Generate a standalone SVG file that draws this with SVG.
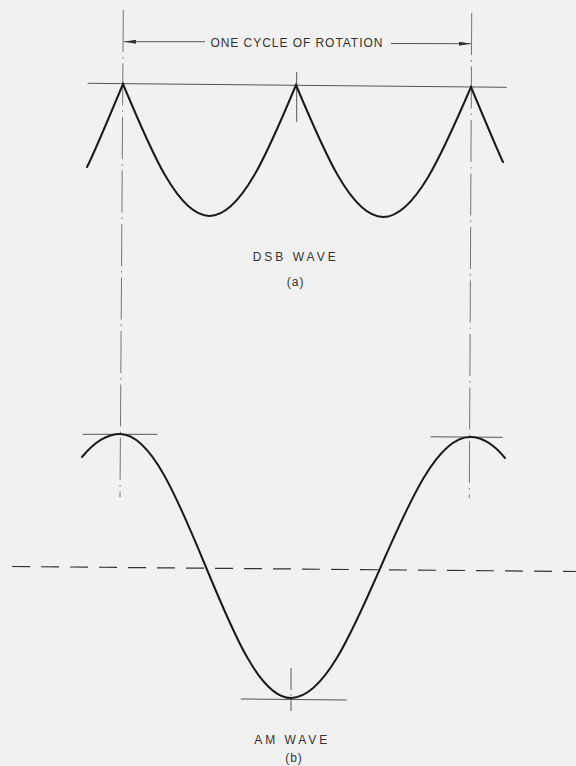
<svg xmlns="http://www.w3.org/2000/svg" width="576" height="766" viewBox="0 0 576 766">
<style>
.bg{fill:#f1f1f1}
.wave{fill:none;stroke:#1a1a1a;stroke-width:2;stroke-linecap:round;stroke-linejoin:miter}
.thin{fill:none;stroke:#555;stroke-width:1}
.cl{fill:none;stroke:#666;stroke-width:0.9;stroke-dasharray:42 5 1.5 5}
.dash{fill:none;stroke:#333;stroke-width:1.2;stroke-dasharray:18 11}
.lbl{font-family:"Liberation Sans",Arial,sans-serif;font-size:12px;fill:#333}
</style>
<defs>
<marker id="ah" viewBox="0 0 12 4" refX="12" refY="2" markerWidth="12" markerHeight="4" markerUnits="userSpaceOnUse" orient="auto">
<path d="M0,0 L12,2 L0,4 Z" fill="#333"/>
</marker>
</defs>
<rect class="bg" x="0" y="0" width="576" height="766"/>
<g id="connectors">
<path class="cl" d="M123.3,10 L120,497"/>
<path class="cl" d="M471.7,13 L469.3,498"/>
<path class="thin" d="M296.7,72 L296.7,122"/>
<path class="thin" d="M205,41.7 L124,41.7" marker-end="url(#ah)"/>
<path class="thin" d="M391,43.5 L471,43.7" marker-end="url(#ah)"/>
<path class="thin" d="M87.7,83.3 L506.7,87.3"/>
<path class="thin" d="M82.7,434.3 L157.3,434.3"/>
<path class="thin" d="M430.7,436.8 L502.7,437.3"/>
<path class="thin" d="M240.7,699 L346.7,700"/>
<path class="thin" d="M291,668 L291,711" stroke-dasharray="22 4 1.5 4"/>
<path class="dash" d="M12,566.5 L576,571.5"/>
</g>
<g id="dim-label">
<text class="lbl" x="296.4" y="46.7" text-anchor="middle" textLength="172" lengthAdjust="spacing">ONE  CYCLE OF ROTATION</text>
</g>
<g id="dsb-wave">
<path class="wave" d="M87,167 Q93.6,154.4 123,84 C151.2,151.6 178.2,216 209.5,216 C240.8,216 267.8,152.6 296,85 C324.4,152.6 351.5,217 383,217 C414.8,217 442.3,153.6 471,87 Q498.7,153.4 503,162"/>
</g>
<g id="dsb-label">
<text class="lbl" x="294.2" y="261" text-anchor="middle" font-size="13" textLength="83" lengthAdjust="spacing">DSB  WAVE</text>
<text class="lbl" x="295.7" y="286" text-anchor="middle" font-size="13" letter-spacing="1">(a)</text>
</g>
<g id="am-wave">
<path class="wave" d="M82,457 Q101,434 120,434 C150.9,434 177.6,498.4 205.5,566 C233.4,633.6 260.1,698 291,698 C323.4,698 351.3,634.4 380.5,567.5 C409.7,500.6 437.6,437 470,437 Q488,437 505,458"/>
</g>
<g id="am-label">
<text class="lbl" x="290.8" y="744" text-anchor="middle" font-size="13" textLength="73" lengthAdjust="spacing">AM  WAVE</text>
<text class="lbl" x="294" y="762" text-anchor="middle" font-size="12" letter-spacing="1">(b)</text>
</g>
</svg>
